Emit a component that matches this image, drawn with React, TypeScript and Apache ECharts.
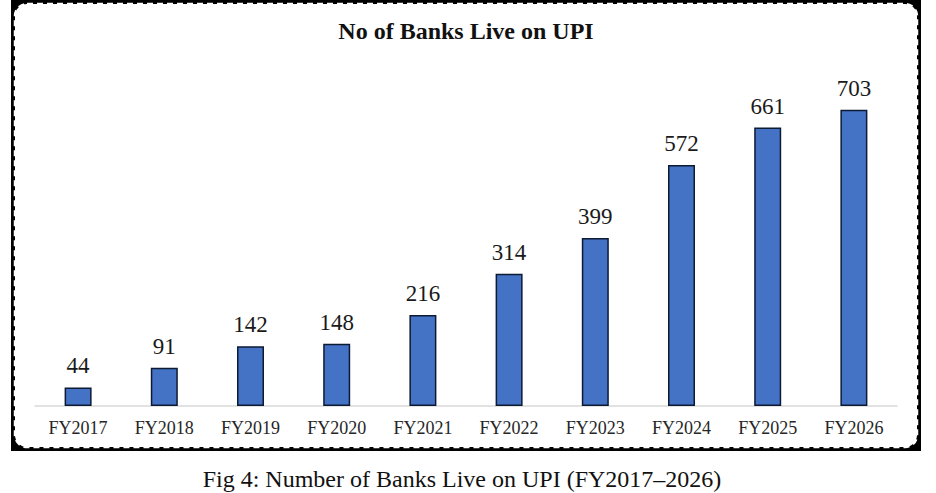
import React, { useEffect, useRef } from "react";
import * as echarts from "echarts";

const categories = ["FY2017", "FY2018", "FY2019", "FY2020", "FY2021", "FY2022", "FY2023", "FY2024", "FY2025", "FY2026"];
const banksLive = [44, 91, 142, 148, 216, 314, 399, 572, 661, 703];
const chartTitle = "No of Banks Live on UPI";
const captionText = "Fig 4: Number of Banks Live on UPI (FY2017\u20132026)";

const SERIF = '"Liberation Serif", "Times New Roman", serif';

export default function App() {
  const ref = useRef<HTMLDivElement>(null);
  useEffect(() => {
    if (!ref.current) return;
    const chart = echarts.init(ref.current, undefined, { renderer: "svg" });
    chart.setOption({
      animation: false,
      backgroundColor: "#ffffff",
      graphic: [
        {
          type: "rect",
          z: -10,
          silent: true,
          shape: { x: 11, y: 0, width: 910, height: 451 },
          style: { fill: "#000000" },
        },
        {
          type: "rect",
          z: -9,
          silent: true,
          shape: { x: 15, y: 4, width: 902, height: 443, r: 12 },
          style: { fill: "#ffffff", stroke: "#ffffff", lineWidth: 2.5, lineDash: [6, 4] },
        },
        {
          type: "text",
          silent: true,
          x: 466,
          y: 31,
          style: {
            text: chartTitle,
            fontFamily: SERIF,
            fontWeight: "bold",
            fontSize: 24,
            fill: "#111111",
            align: "center",
            verticalAlign: "middle",
          },
        },
        {
          type: "text",
          silent: true,
          x: 462,
          y: 479,
          style: {
            text: captionText,
            fontFamily: SERIF,
            fontSize: 24,
            fill: "#111111",
            align: "center",
            verticalAlign: "middle",
          },
        },
      ],
      grid: { left: 35, right: 39, top: 69, bottom: 87, containLabel: false },
      xAxis: {
        type: "category",
        data: categories,
        axisLine: { show: true, lineStyle: { color: "#d9d9d9", width: 1.5 } },
        axisTick: { show: false },
        axisLabel: {
          margin: 13,
          fontFamily: SERIF,
          fontSize: 18,
          color: "#262626",
        },
      },
      yAxis: {
        type: "value",
        min: 0,
        max: 800,
        show: false,
        splitLine: { show: false },
      },
      series: [
        {
          type: "bar",
          data: banksLive,
          barWidth: 27,
          itemStyle: { color: "#4472c4", borderColor: "#0d1a33", borderWidth: 1.5 },
          label: {
            show: true,
            position: "top",
            distance: 10,
            fontFamily: SERIF,
            fontSize: 23,
            color: "#1a1a1a",
          },
        },
      ],
    });
    return () => chart.dispose();
  }, []);
  return (
    <div
      ref={ref}
      style={{ position: "absolute", left: 0, top: 0, width: 936, height: 493 }}
    />
  );
}
